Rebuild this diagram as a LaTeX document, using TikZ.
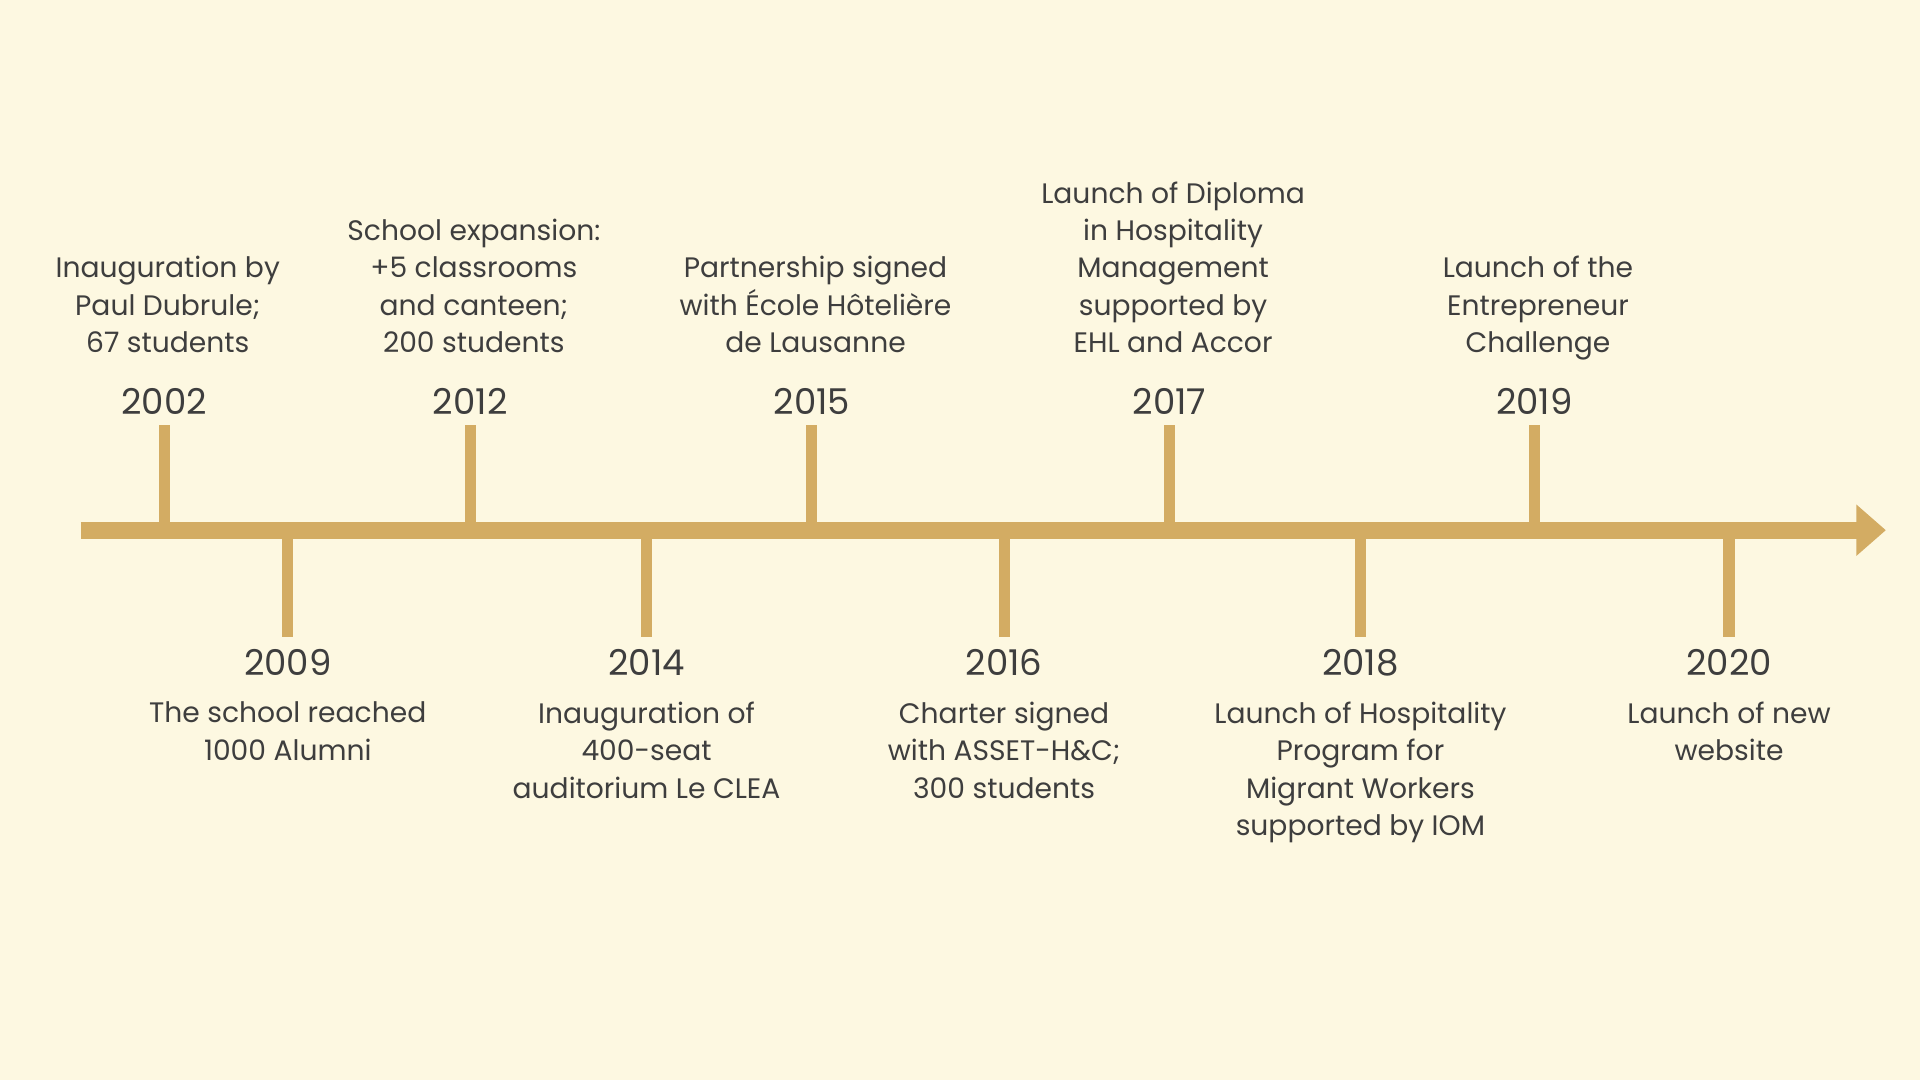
\documentclass[tikz,border=0pt]{standalone}
\usepackage{fontspec}
\setmainfont{Poppins}
\definecolor{bg}{HTML}{FDF8E1}
\definecolor{gold}{HTML}{D3AC63}
\definecolor{ink}{HTML}{3E3E3E}
\begin{document}
\begin{tikzpicture}[x=1pt,y=-1pt,
  yr/.style={font=\fontsize{29}{34}\selectfont, text=ink, anchor=center},
  txt/.style={font=\fontsize{23}{30.5}\selectfont, text=ink, align=center, inner sep=0pt},
  tick/.style={draw=gold, line width=9pt}]
\fill[bg] (0,0) rectangle (1568,882);
\useasboundingbox (0,0) rectangle (1568,882);
\coordinate (s) at (66,433);
\coordinate (e) at (1518,433);
\draw[gold, line width=14pt] (s) -- (e);
\fill[gold] (1516,412) -- (1540,433) -- (1516,454) -- cycle;
% up events
\foreach \x/\y/\t [count=\i] in {134/2002/{Inauguration by\\Paul Dubrule;\\67 students},
  384/2012/{School expansion:\\+5 classrooms\\and canteen;\\200 students},
  663/2015/{Partnership signed\\with École Hôtelière\\de Lausanne},
  955/2017/{Launch of Diploma\\in Hospitality\\Management\\supported by\\EHL and Accor},
  1253/2019/{Launch of the\\Entrepreneur\\Challenge}}{
  \coordinate (ua\i) at (\x,433);
  \coordinate (ub\i) at (\x,347);
  \draw[tick] (ua\i) -- (ub\i);
  \node[yr] (uy\i) at (\x,328) {\y};
  \node[txt, anchor=base] (ut\i) at (\x+3,288) {\t};
}
% down events
\foreach \x/\y/\t [count=\i] in {235/2009/{The school reached\\1000 Alumni},
  528/2014/{Inauguration of\\400-seat\\auditorium Le CLEA},
  820/2016/{Charter signed\\with ASSET-H\&C;\\300 students},
  1111/2018/{Launch of Hospitality\\Program for\\Migrant Workers\\supported by IOM},
  1412/2020/{Launch of new\\website}}{
  \coordinate (da\i) at (\x,433);
  \coordinate (db\i) at (\x,520);
  \draw[tick] (da\i) -- (db\i);
  \node[yr] (dy\i) at (\x,541) {\y};
  \node[txt, anchor=north] (dt\i) at (\x,573) {\t};
}
\end{tikzpicture}
\end{document}
